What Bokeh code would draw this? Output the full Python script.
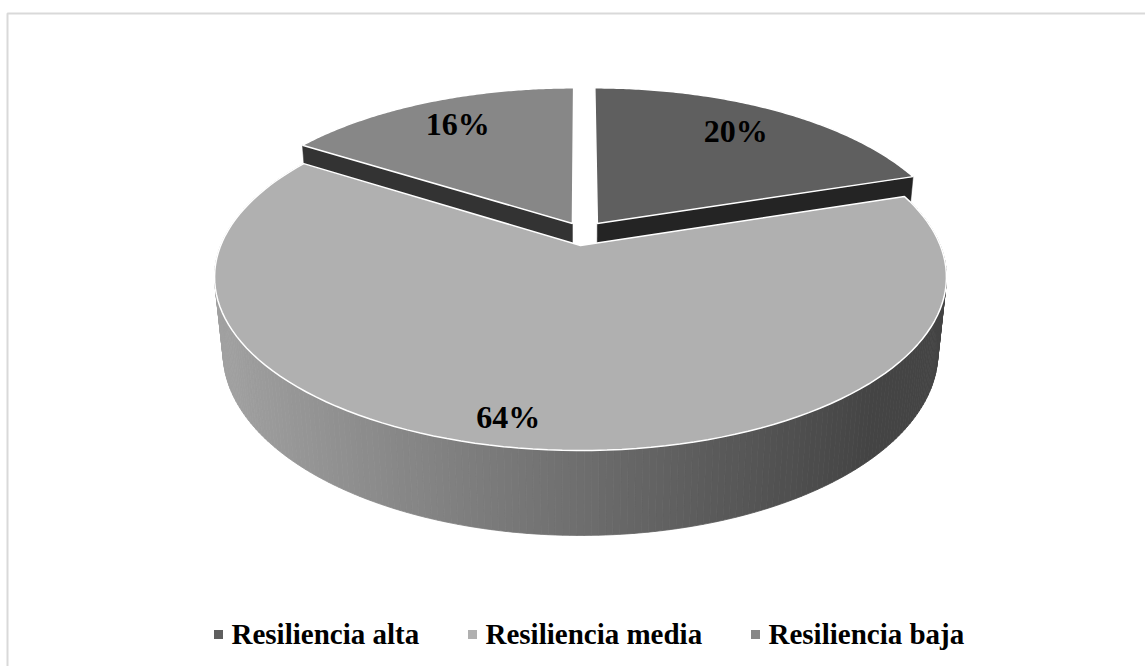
import numpy as np
from bokeh.plotting import figure
from bokeh.models import Range1d
from bokeh.core.properties import value
from bokeh.embed import file_html
from bokeh.resources import INLINE

# ---- data ----
categories = ["Resiliencia alta", "Resiliencia media", "Resiliencia baja"]
percentages = [20, 64, 16]
labels = ["20%", "64%", "16%"]
top_colors = ["#5f5f5f", "#b0b0b0", "#878787"]
side_colors = ["#242424", "#6d6d6d", "#333333"]

# ---- 3D projection style ----
W, H = 1145, 666
CX, CY = 580.0, 245.0
S = 359.8
SIN_T = 0.466
COS_T = float(np.sqrt(1 - SIN_T ** 2))
Q = 0.206
DEPTH = 0.239
EXPLODE = [(0.048, 0.135), (0.0, 0.0), (-0.023, 0.135)]
LABEL_R = [0.77, 0.88, 0.75]
LABEL_NUDGE = [(-3, -3), (-25, -3), (-2, -5)]
FONT = value("Liberation Serif")


def project(x, y, z):
    x = np.asarray(x, float); y = np.asarray(y, float); z = np.asarray(z, float)
    V = y * SIN_T + z * COS_T
    Dp = y * COS_T - z * SIN_T
    w = 1 + Q * Dp
    return CX + S * x / w, CY - S * V / w


total = float(sum(percentages))
ends = np.cumsum(percentages) / total * 360.0
starts = np.concatenate([[0.0], ends[:-1]])

p = figure(width=W, height=H, x_range=Range1d(0, W), y_range=Range1d(H, 0),
           output_backend="svg", toolbar_location=None, min_border=0)
p.axis.visible = False
p.grid.visible = False
p.outline_line_color = None
p.background_fill_color = "white"
p.border_fill_color = "white"

# chart border
p.quad(left=[7], right=[1160], top=[13], bottom=[690], fill_color=None,
       line_color="#d9d9d9", line_width=2)


def arc(a0, a1, ox, oy, z, n=120):
    t = np.radians(np.linspace(a0, a1, n))
    return project(ox + np.sin(t), oy + np.cos(t), np.full(n, z))


def radial_face(angle, ox, oy):
    t = np.radians(angle)
    xs3 = [ox, ox + np.sin(t), ox + np.sin(t), ox]
    ys3 = [oy, oy + np.cos(t), oy + np.cos(t), oy]
    zs3 = [0, 0, -DEPTH, -DEPTH]
    return project(xs3, ys3, zs3)


def top_face(i):
    ox, oy = EXPLODE[i]
    ax, ay = project([ox], [oy], [0])
    rx, ry = arc(starts[i], ends[i], ox, oy, 0.0)
    return list(np.concatenate([ax, rx, ax])), list(np.concatenate([ay, ry, ay]))


# exploded back slices: visible radial sides then tops
for i, ang in [(0, ends[0]), (2, starts[2])]:
    fx, fy = radial_face(ang, *EXPLODE[i])
    p.patch(list(fx), list(fy), fill_color=side_colors[i], line_color=side_colors[i], line_width=0.5)
for i in [0, 2]:
    tx, ty = top_face(i)
    p.patch(tx, ty, fill_color=top_colors[i], line_color="white", line_width=1.5)

# media outer side, shaded strips
i = 1
ox, oy = EXPLODE[i]
angs = np.linspace(starts[i], ends[i], 241)
order = []
for k in range(len(angs) - 1):
    a0, a1 = np.radians(angs[k]), np.radians(angs[k + 1])
    xs3 = [ox + np.sin(a0), ox + np.sin(a1), ox + np.sin(a1), ox + np.sin(a0)]
    ys3 = [oy + np.cos(a0), oy + np.cos(a1), oy + np.cos(a1), oy + np.cos(a0)]
    zs3 = [0, 0, -DEPTH, -DEPTH]
    sx, sy = project(xs3, ys3, zs3)
    depth_key = np.cos((a0 + a1) / 2)
    mx = float(np.mean(sx))
    g = 0xa2 + (0x44 - 0xa2) * min(max((mx - 215) / (870 - 215), 0), 1)
    g = int(round(g))
    col = "#%02x%02x%02x" % (g, g, g)
    order.append((depth_key, list(sx), list(sy), col))
order.sort(key=lambda t: -t[0])
p.patches([o[1] for o in order], [o[2] for o in order],
          fill_color=[o[3] for o in order], line_color=[o[3] for o in order], line_width=0.8)

# media top
tx, ty = top_face(1)
p.patch(tx, ty, fill_color=top_colors[1], line_color="white", line_width=1.5)

# data labels
for i in range(3):
    mid = np.radians((starts[i] + ends[i]) / 2)
    ox, oy = EXPLODE[i]
    lx, ly = project([ox + LABEL_R[i] * np.sin(mid)], [oy + LABEL_R[i] * np.cos(mid)], [0])
    p.text(x=[float(lx[0]) + LABEL_NUDGE[i][0]], y=[float(ly[0]) + LABEL_NUDGE[i][1]],
           text=[labels[i]], text_font=FONT, text_font_style="bold",
           text_font_size="32px", text_color="black",
           text_align="center", text_baseline="middle")

# legend
LEG_X = [218, 472, 755]
LEG_Y = 634
p.scatter(x=LEG_X, y=[LEG_Y] * 3, marker="square", size=9,
          fill_color=top_colors, line_color=None)
p.text(x=[x + 13 for x in LEG_X], y=[LEG_Y - 1] * 3, text=categories,
       text_font=FONT, text_font_style="bold", text_font_size="29px",
       text_color="black", text_align="left", text_baseline="middle")

open("out.html", "w").write(file_html(p, INLINE))
